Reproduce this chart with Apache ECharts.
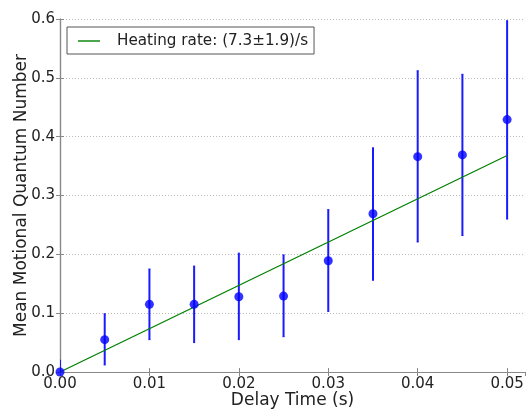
<!DOCTYPE html>
<html><head><meta charset="utf-8">
<script src="https://cdn.jsdelivr.net/npm/echarts@6/dist/echarts.min.js"></script>
<style>html,body{margin:0;padding:0;background:#fff}#c{width:532px;height:410px}</style>
</head><body><div id="c"></div>
<script>
const delays = [0.0, 0.005, 0.01, 0.015, 0.02, 0.025, 0.03, 0.035, 0.04, 0.045, 0.05];
const meanN  = [0.0, 0.055, 0.115, 0.115, 0.128, 0.129, 0.189, 0.269, 0.366, 0.369, 0.429];
const errLow = [-0.02, 0.012, 0.055, 0.050, 0.055, 0.060, 0.103, 0.156, 0.221, 0.232, 0.260];
const errHigh= [0.02, 0.099, 0.175, 0.180, 0.202, 0.199, 0.276, 0.381, 0.512, 0.506, 0.597];
const fitX = [0.0, 0.05];
const fitY = [0.0, 0.368];
const legendLabel = 'Heating rate: (7.3±1.9)/s';
const xTicks = [0, 0.01, 0.02, 0.03, 0.04, 0.05];
const yTicks = [0, 0.1, 0.2, 0.3, 0.4, 0.5, 0.6];

const font = 'DejaVu Sans';
const chart = echarts.init(document.getElementById('c'), null, {renderer:'canvas'});
const axisLine = {show:true, lineStyle:{color:'#888', width:1.2}};
const tick = {show:true, inside:true, length:4, lineStyle:{color:'#888'}};
chart.setOption({
  animation:false,
  backgroundColor:'#fff',
  grid:{left:60, right:7, top:19, bottom:38, containLabel:false, outerBoundsMode:'none'},
  legend:{
    left:67, top:27, orient:'horizontal',
    data:[{name:legendLabel, icon:'rect'}],
    backgroundColor:'#fff', borderColor:'#555', borderWidth:1, borderRadius:0,
    padding:[6,6,5,11], itemWidth:22, itemHeight:1.4,
    itemStyle:{color:'#008000'},
    textStyle:{fontFamily:font, fontSize:15.2, color:'#222', padding:[0,0,0,12], lineHeight:16}
  },
  xAxis:[{
    type:'value', min:0, max:0.052, interval:0.01,
    name:'Delay Time (s)', nameLocation:'middle', nameGap:20, nameMoveOverlap:false,
    nameTextStyle:{fontFamily:font, fontSize:17, color:'#222'},
    axisLine:axisLine, axisTick:tick, splitLine:{show:false},
    axisLabel:{fontFamily:font, fontSize:15, color:'#222', margin:5, showMaxLabel:false,
      formatter:v => xTicks.some(t=>Math.abs(t-v)<1e-9) ? v.toFixed(2) : ''}
  },{
    type:'value', position:'top', min:0, max:0.052, interval:0.01,
    axisLine:axisLine, axisTick:tick, axisLabel:{show:false}, splitLine:{show:false}
  }],
  yAxis:[{
    type:'value', min:0, max:0.6, interval:0.1,
    name:'Mean Motional Quantum Number', nameLocation:'middle', nameGap:30, nameMoveOverlap:false,
    nameTextStyle:{fontFamily:font, fontSize:17, color:'#222'},
    axisLine:axisLine, axisTick:tick,
    splitLine:{show:true, lineStyle:{color:'#bbb', type:[1,2], width:1}},
    axisLabel:{fontFamily:font, fontSize:15, color:'#222', margin:5,
      formatter:v => yTicks.some(t=>Math.abs(t-v)<1e-9) ? v.toFixed(1) : ''}
  },{
    type:'value', position:'right', min:0, max:0.6, interval:0.1,
    axisLine:axisLine, axisTick:tick, axisLabel:{show:false}, splitLine:{show:false}
  }],
  series:[{
    name:legendLabel, type:'line', symbol:'none',
    data:fitX.map((x,i)=>[x,fitY[i]]),
    lineStyle:{color:'#008000', width:1.3}, itemStyle:{color:'#008000'}, z:3
  },{
    type:'custom', name:'err',
    data:delays.map((x,i)=>[x,errLow[i],errHigh[i]]),
    renderItem:(params, api)=>{
      const p1 = api.coord([api.value(0), api.value(1)]);
      const p2 = api.coord([api.value(0), api.value(2)]);
      return {type:'group', children:[
        {type:'line', shape:{x1:p1[0],y1:p1[1],x2:p2[0],y2:p2[1]}, style:{stroke:'#1a1aff', lineWidth:2}},
        {type:'line', shape:{x1:p1[0]-1,y1:p1[1],x2:p1[0]+1,y2:p1[1]}, style:{stroke:'#1a1aff', lineWidth:1}},
        {type:'line', shape:{x1:p2[0]-1,y1:p2[1],x2:p2[0]+1,y2:p2[1]}, style:{stroke:'#1a1aff', lineWidth:1}}
      ]};
    },
    clip:true, z:2
  },{
    type:'scatter', name:'data', symbol:'circle', symbolSize:9,
    data:delays.map((x,i)=>[x,meanN[i]]),
    itemStyle:{color:'#0000ff'}, z:4, clip:true
  }]
});
</script></body></html>
